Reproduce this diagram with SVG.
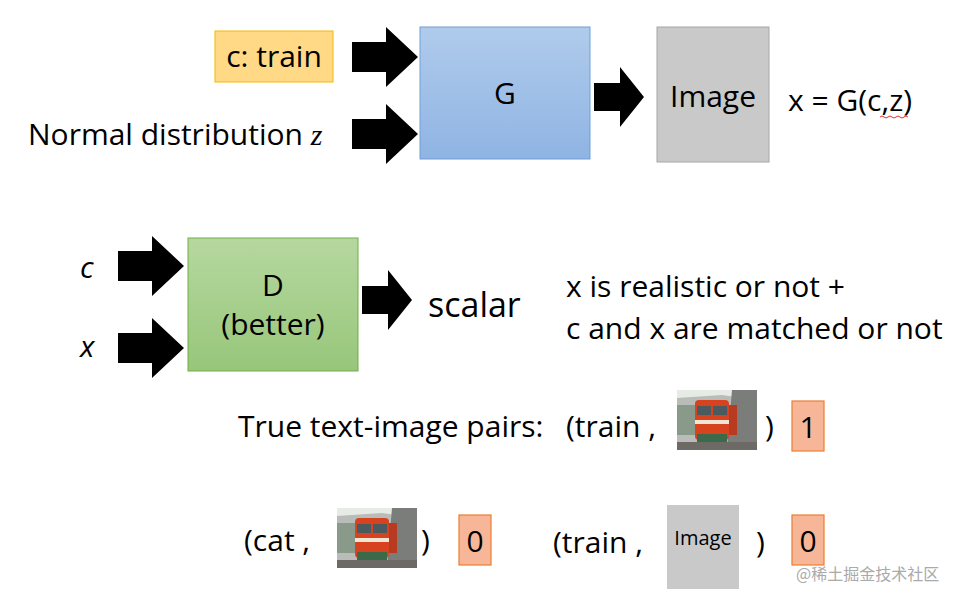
<svg xmlns="http://www.w3.org/2000/svg" width="962" height="589" viewBox="0 0 962 589">
<style>
text{font-family:"Open Sans","Liberation Sans",sans-serif;fill:#000}
.t{font-size:30px}
.ar{fill:#000}
.lab{fill:#f8b699;stroke:#ed7d31;stroke-width:1.2}
</style>
<defs>
<linearGradient id="gb" x1="0" y1="0" x2="0" y2="1"><stop offset="0" stop-color="#b0cbec"/><stop offset="1" stop-color="#8fb4e3"/></linearGradient>
<linearGradient id="gg" x1="0" y1="0" x2="0" y2="1"><stop offset="0" stop-color="#b6d8a0"/><stop offset="1" stop-color="#97c67a"/></linearGradient>
<path id="arr" d="M0,-15 H34 V-30 L66,0 L34,30 V15 H0 Z"/>
<path id="arrS" d="M0,-14 H26 V-30 L50,0 L26,30 V14 H0 Z"/>
<symbol id="train" viewBox="0 0 80 60">
<rect width="80" height="60" fill="#b9bcb8"/>
<polygon points="0,0 80,0 80,10 45,5 0,8" fill="#e6ebe6"/>
<polygon points="55,0 80,0 80,60 50,60" fill="#7a7d7a"/>
<rect x="0" y="15" width="18" height="30" fill="#8a9a8a"/>
<rect x="18" y="10" width="34" height="40" rx="4" fill="#d8431f"/>
<rect x="20" y="16" width="14" height="9" fill="#4a5a5f"/>
<rect x="36" y="16" width="14" height="9" fill="#4a5a5f"/>
<rect x="18" y="30" width="34" height="4" fill="#f1e6d6"/>
<rect x="20" y="44" width="30" height="8" fill="#3a6a4a"/>
<rect x="0" y="52" width="80" height="8" fill="#6d6a66"/>
<rect x="52" y="15" width="8" height="30" fill="#b83a20"/>
</symbol>
</defs>

<g id="connectors">
<use href="#arr" class="ar" x="352" y="57"/>
<use href="#arr" class="ar" x="352" y="134"/>
<use href="#arrS" class="ar" x="594" y="97"/>
<use href="#arr" class="ar" x="118" y="266"/>
<use href="#arr" class="ar" x="118" y="348"/>
<use href="#arrS" class="ar" x="362" y="300"/>
</g>

<g id="c-train"><rect x="215" y="31" width="118" height="51" fill="#ffd985" stroke="#f5b800"/><text class="t" x="274" y="67" text-anchor="middle">c: train</text></g>
<g id="normal"><text class="t" x="28" y="145">Normal distribution <tspan font-family="Liberation Serif,serif" font-style="italic">z</tspan></text></g>
<g id="G"><rect x="420" y="27" width="170" height="132" fill="url(#gb)" stroke="#6f9fd8"/><text class="t" x="505" y="104" text-anchor="middle">G</text></g>
<g id="Image"><rect x="657" y="27" width="112" height="135" fill="#c9c9c9" stroke="#a6a6a6"/><text class="t" x="713" y="107" text-anchor="middle">Image</text></g>
<g id="eq"><text class="t" x="788" y="111">x = G(c,z)</text><path d="M880,117 q2,-2 4,0 t4,0 t4,0 t4,0 t4,0 t4,0 t4,0" fill="none" stroke="#e03030" stroke-width="1"/></g>

<g id="c"><text x="80" y="278" font-size="30" font-family="Liberation Serif,serif" font-style="italic">c</text></g>
<g id="x"><text x="80" y="357" font-size="30" font-family="Liberation Serif,serif" font-style="italic">x</text></g>
<g id="D"><rect x="188" y="238" width="170" height="133" fill="url(#gg)" stroke="#70ad47"/><text class="t" x="273" y="296" text-anchor="middle">D</text><text class="t" x="273" y="335" text-anchor="middle">(better)</text></g>
<g id="scalar"><text x="428" y="317" font-size="34">scalar</text></g>
<g id="desc"><text class="t" x="566" y="297">x is realistic or not +</text><text class="t" x="566" y="339">c and x are matched or not</text></g>

<g id="pair1">
<text class="t" x="238" y="437">True text-image pairs:</text>
<text class="t" x="566" y="437">(train ,</text>
<use href="#train" x="677" y="390" width="80" height="60"/>
<text class="t" x="765" y="437">)</text>
<rect class="lab" x="792" y="401" width="32" height="50"/><text class="t" x="808" y="438" text-anchor="middle">1</text>
</g>
<g id="pair2">
<text class="t" x="244" y="551">(cat ,</text>
<use href="#train" x="337" y="508" width="80" height="60"/>
<text class="t" x="421" y="551">)</text>
<rect class="lab" x="459" y="515" width="32" height="50"/><text class="t" x="475" y="552" text-anchor="middle">0</text>
</g>
<g id="pair3">
<text class="t" x="553" y="553">(train ,</text>
<rect x="667" y="505" width="72" height="84" fill="#c9c9c9"/><text x="703" y="545" font-size="20" text-anchor="middle">Image</text>
<text class="t" x="756" y="553">)</text>
<rect class="lab" x="792" y="515" width="32" height="50"/><text class="t" x="808" y="552" text-anchor="middle">0</text>
</g>
<text x="796" y="580" font-size="16" style="fill:#aaaaaa;font-family:'Noto Sans CJK SC',sans-serif">@稀土掘金技术社区</text>
</svg>
